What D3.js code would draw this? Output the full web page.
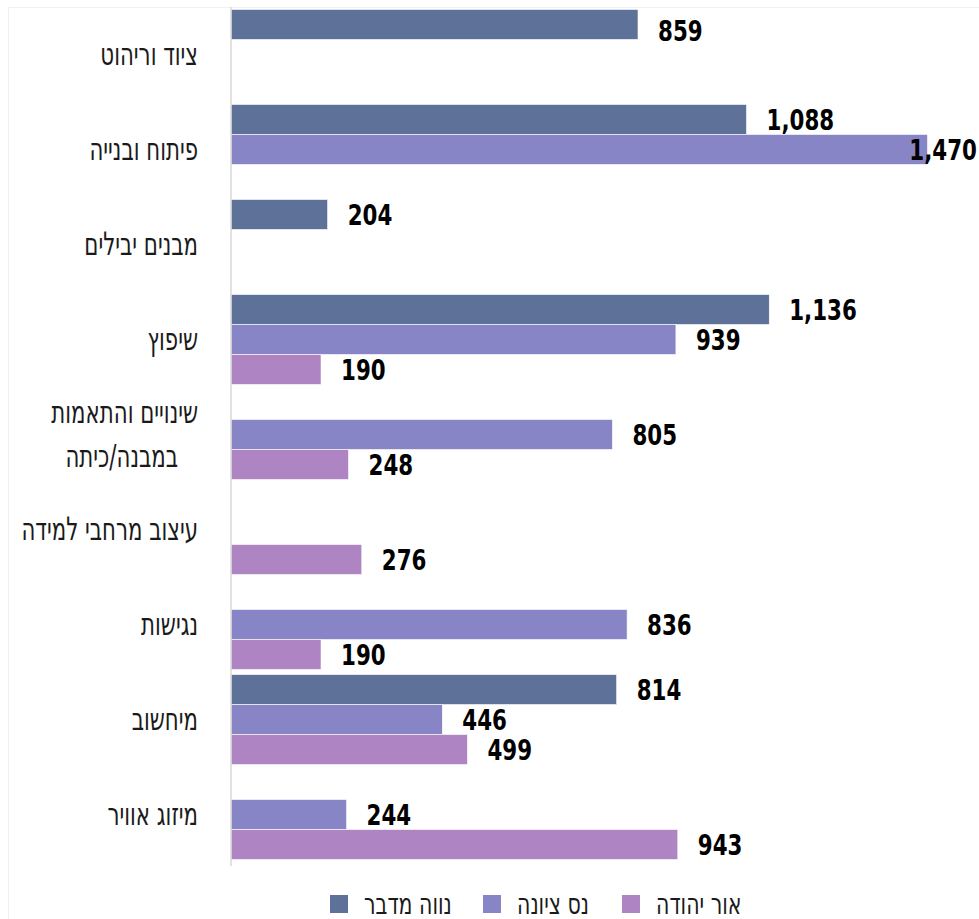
<!DOCTYPE html>
<html lang="he">
<head>
<meta charset="utf-8">
<script src="https://cdn.jsdelivr.net/npm/d3@7"></script>
<style>
  body { margin: 0; background: #fff; }
  .cat-text { font-family: "Liberation Sans Narrow", "DejaVu Sans Condensed", sans-serif; font-size: 32px; fill: #1a1a1a; }
  .val-text { font-family: "Liberation Sans Narrow", "DejaVu Sans Condensed", sans-serif; font-weight: bold; font-size: 29px; fill: #000; }
  .legend-text { font-family: "Liberation Sans Narrow", "DejaVu Sans Condensed", sans-serif; font-size: 30px; fill: #1a1a1a; }
</style>
</head>
<body>
<div id="chart"></div>
<script>
let categories = ['ציוד וריהוט', 'פיתוח ובנייה', 'מבנים יבילים', 'שיפוץ',
  'שינויים והתאמות|במבנה/כיתה', 'עיצוב מרחבי למידה', 'נגישות', 'מיחשוב', 'מיזוג אוויר']
let seriesNames = ['נווה מדבר', 'נס ציונה', 'אור יהודה']
let navaMidbar = [859, 1088, 204, 1136, null, null, null, 814, null]
let nessZiona = [null, 1470, null, 939, 805, null, 836, 446, 244]
let orYehuda = [null, null, null, 190, 248, 276, 190, 499, 943]
let colors = ['#5e7198', '#8885c6', '#ae84c3']

let width = 979,
  height = 919,
  margin = {top: 7, left: 231, bottom: 57},
  valScale = 0.82, // squeeze fonts horizontally to look condensed
  catScale = 0.74

let allSeries = [navaMidbar, nessZiona, orYehuda]

let y0 = d3.scaleBand()
  .domain(d3.range(categories.length))
  .range([margin.top, height - margin.bottom])
  .paddingInner(0.053)
  .paddingOuter(0.026)

let y1 = d3.scaleBand()
  .domain(d3.range(seriesNames.length))
  .range([0, y0.bandwidth()])

let x = d3.scaleLinear()
  .domain([0, 1470])
  .range([margin.left, 927.5])

let svg = d3.select('#chart').append('svg')
  .attr('width', width)
  .attr('height', height)

// faint chart border
svg.append('rect')
  .attr('x', 8.5).attr('y', margin.top + 0.5)
  .attr('width', width - 8).attr('height', height - margin.top)
  .attr('fill', 'none')
  .attr('stroke', '#f0f0f0')

let bars = []
categories.forEach(function (c, i) {
  allSeries.forEach(function (s, j) {
    if (s[i] != null) bars.push({cat: i, series: j, value: s[i]})
  })
})

svg.append('g').selectAll('rect')
  .data(bars)
  .enter().append('rect')
  .attr('x', x(0))
  .attr('y', function (d) { return y0(d.cat) + y1(d.series) })
  .attr('width', function (d) { return x(d.value) - x(0) })
  .attr('height', y1.bandwidth())
  .attr('fill', function (d) { return colors[d.series] })
  .attr('stroke', '#fff')
  .attr('stroke-width', 0.6)

// axis line
svg.append('line')
  .attr('x1', x(0)).attr('x2', x(0))
  .attr('y1', margin.top).attr('y2', height - margin.bottom + 4)
  .attr('stroke', '#d9d9d9')
  .attr('stroke-width', 1.5)

// value labels
let fmt = d3.format(',')
svg.append('g').selectAll('text')
  .data(bars)
  .enter().append('text')
  .attr('class', 'val-text')
  .attr('dominant-baseline', 'central')
  .text(function (d) { return fmt(d.value) })
  .attr('transform', function (d) {
    let w = this.getComputedTextLength() * valScale
    let tx = Math.min(x(d.value) + 20, width - 2 - w)
    let ty = Math.max(y0(d.cat) + y1(d.series) + y1.bandwidth() / 2, 31)
    return 'translate(' + tx + ',' + ty + ') scale(' + valScale + ',1)'
  })

// category labels
let catText = svg.append('g').selectAll('text')
  .data(categories)
  .enter().append('text')
  .attr('class', 'cat-text')
  .attr('text-anchor', 'end')
  .attr('dominant-baseline', 'central')
  .attr('transform', function (d, i) {
    return 'translate(198,' + (y0(i) + y0.bandwidth() / 2) + ') scale(' + catScale + ',1)'
  })

catText.each(function (d) {
  let lines = d.split('|')
  let t = d3.select(this)
  if (lines.length === 1) {
    t.text(d)
  } else {
    t.append('tspan').attr('x', 0).attr('dy', '-0.7em').text(lines[0])
    t.append('tspan').attr('x', -20 / catScale).attr('dy', '1.35em').text(lines[1])
  }
})

// legend
let legendX = [330, 483, 622]
let legend = svg.append('g').selectAll('g')
  .data(seriesNames)
  .enter().append('g')
  .attr('transform', function (d, i) { return 'translate(' + legendX[i] + ',' + 895 + ')' })

legend.append('rect')
  .attr('width', 18).attr('height', 18)
  .attr('fill', function (d, i) { return colors[i] })

legend.append('text')
  .attr('class', 'legend-text')
  .attr('dominant-baseline', 'central')
  .attr('text-anchor', 'start')
  .attr('transform', 'translate(34,8) scale(' + (catScale + 0.02) + ',1)')
  .text(function (d) { return d })
</script>
</body>
</html>
